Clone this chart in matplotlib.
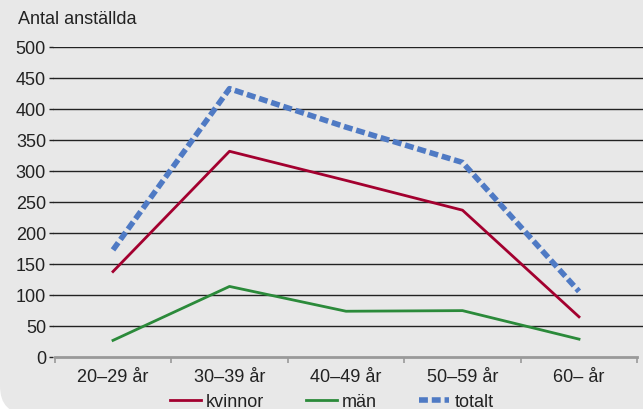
import matplotlib.pyplot as plt
import numpy as np
from matplotlib.patches import FancyBboxPatch

plt.rcParams['font.family'] = ['Liberation Sans', 'DejaVu Sans']

categories = ['20–29 år', '30–39 år', '40–49 år', '50–59 år', '60– år']
kvinnor = [137, 331, 284, 236, 64]
man = [26, 113, 73, 74, 28]
totalt = [172, 432, 370, 313, 105]
yticks = [0, 50, 100, 150, 200, 250, 300, 350, 400, 450, 500]

bg = '#e8e8e8'
fig = plt.figure(figsize=(6.43, 4.10), dpi=100)
fig.patch.set_facecolor('white')
# grey box with rounded lower-left corner
box = FancyBboxPatch((0, -5 / 410), 1.3, 1.3, boxstyle='round,pad=0,rounding_size=%f' % (28 / 643),
                     transform=fig.transFigure, facecolor=bg, edgecolor='none',
                     mutation_aspect=643 / 410, zorder=-10)
fig.patches.append(box)

ax = fig.add_axes([53 / 643, 1 - 357.5 / 410, 590 / 643, 310 / 410])
ax.set_facecolor('none')

x = np.arange(len(categories))
ax.plot(x, kvinnor, color='#a3002f', lw=2, label='kvinnor')
ax.plot(x, man, color='#2b8a3a', lw=2, label='män')
ax.plot(x, totalt, color='#4f7ac4', lw=4, ls=(0, (1.6, 0.7)), label='totalt')

for v in yticks[1:]:
    ax.axhline(v, color='#222222', lw=1, zorder=0)

ax.set_ylim(0, 500)
ax.set_xlim((53 - 113) / 116.5, (643 - 113) / 116.5)
ax.set_yticks(yticks)
ax.set_xticks(x)
ax.set_xticklabels(categories)
ax.set_xticks(np.arange(-0.5, 5, 1), minor=True)
ax.tick_params(axis='x', which='major', length=0, pad=8, labelsize=13, colors='#222222')
ax.tick_params(axis='x', which='minor', length=4, color='#999999', width=1.2)
ax.tick_params(axis='y', length=3, width=1, color='#222222', pad=2, labelsize=13, labelcolor='#222222')
for s in ['top', 'right', 'left']:
    ax.spines[s].set_visible(False)
ax.spines['bottom'].set_color('#999999')
ax.spines['bottom'].set_linewidth(2)
ax.spines['bottom'].set_bounds(-0.5, 4.5)

fig.text(18 / 643, 1 - 19 / 410, 'Antal anställda', fontsize=13, color='#222222', va='center')

fig.legend(loc='center', bbox_to_anchor=(332 / 643, 1 - 403 / 410), ncol=3, frameon=False,
           fontsize=13, handlelength=1.7, handletextpad=0.3, columnspacing=2.3,
           labelcolor='#222222')

fig.savefig('out.png', dpi=100, facecolor=fig.get_facecolor())
